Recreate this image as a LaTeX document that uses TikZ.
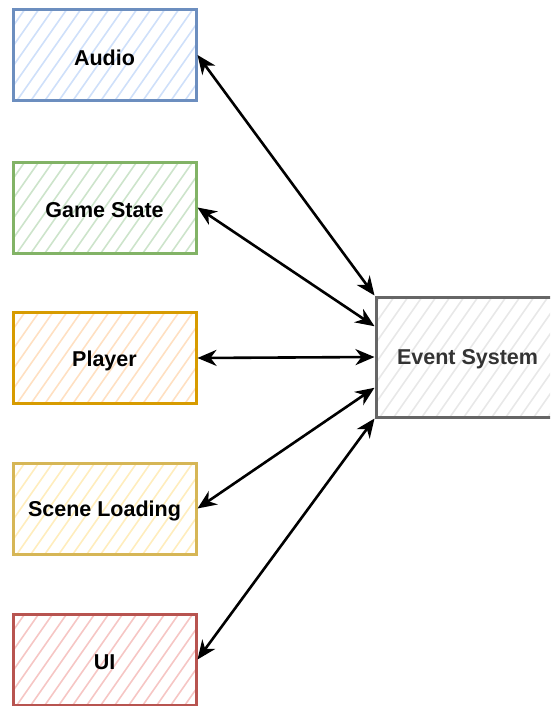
\documentclass[tikz,border=0pt]{standalone}
\usepackage{fontspec}
\setmainfont{Liberation Sans}
\usetikzlibrary{arrows.meta,calc}
\definecolor{blueS}{HTML}{6C8EBF}\definecolor{blueF}{HTML}{CFE0FA}
\definecolor{greenS}{HTML}{82B366}\definecolor{greenF}{HTML}{CDE4CB}
\definecolor{orangeS}{HTML}{D79B00}\definecolor{orangeF}{HTML}{FFE0C2}
\definecolor{yellowS}{HTML}{D6B656}\definecolor{yellowF}{HTML}{FFEDBD}
\definecolor{redS}{HTML}{B85450}\definecolor{redF}{HTML}{F6C6C4}
\definecolor{grayS}{HTML}{666666}\definecolor{grayF}{HTML}{E8E8E8}
\definecolor{txtgray}{HTML}{333333}
\tikzset{
  hatchbox/.style n args={2}{draw=#1, line width=3pt, minimum width=183pt, minimum height=91pt,
    inner sep=0pt, font=\fontsize{21.5}{25}\selectfont\bfseries,
    path picture={\foreach \k in {0,...,24}{\draw[#2, line width=1.6pt]
      ([xshift=\k*14pt-80pt]path picture bounding box.south west) -- ++(84pt,120pt);}}},
  lbl/.style={yshift=-2.5pt},
  link/.style={draw=black, line width=2.6pt,
    {Stealth[length=19pt,width=16pt,inset=6pt]}-{Stealth[length=19pt,width=16pt,inset=6pt]}}
}
\begin{document}
\begin{tikzpicture}[x=1pt,y=-1pt]
\useasboundingbox (0,0) rectangle (550,706);
\clip (0,0) rectangle (550,706);
\node[hatchbox={blueS}{blueF}]     (a) at (104.5,55)  {};
\node[hatchbox={greenS}{greenF}]   (g) at (104.5,207.5) {};
\node[hatchbox={orangeS}{orangeF}] (p) at (104.5,358) {};
\node[hatchbox={yellowS}{yellowF}] (s) at (104.5,508.5) {};
\node[hatchbox={redS}{redF}]       (u) at (104.5,659.5) {};
\node[hatchbox={grayS}{grayF}, minimum height=120pt] (e) at (467.5,357) {};
\node[lbl, font=\fontsize{21.5}{25}\selectfont\bfseries] (at) at (a) {Audio};
\node[lbl, font=\fontsize{21.5}{25}\selectfont\bfseries] (gt) at (g) {Game State};
\node[lbl, font=\fontsize{21.5}{25}\selectfont\bfseries] (pt) at (p) {Player};
\node[lbl, font=\fontsize{21.5}{25}\selectfont\bfseries] (st) at (s) {Scene Loading};
\node[lbl, font=\fontsize{21.5}{25}\selectfont\bfseries] (ut) at (u) {UI};
\node[lbl, font=\fontsize{21.5}{25}\selectfont\bfseries, text=txtgray] (et) at (e) {Event System};
\coordinate (e1) at ($(e.north west)!0.25!(e.south west)$);
\coordinate (e3) at ($(e.north west)!0.75!(e.south west)$);
\draw[link] (a.east) -- (e.north west);
\draw[link] (g.east) -- (e1);
\draw[link] (p.east) -- (e.west);
\draw[link] (s.east) -- (e3);
\draw[link] (u.east) -- (e.south west);
\end{tikzpicture}
\end{document}
